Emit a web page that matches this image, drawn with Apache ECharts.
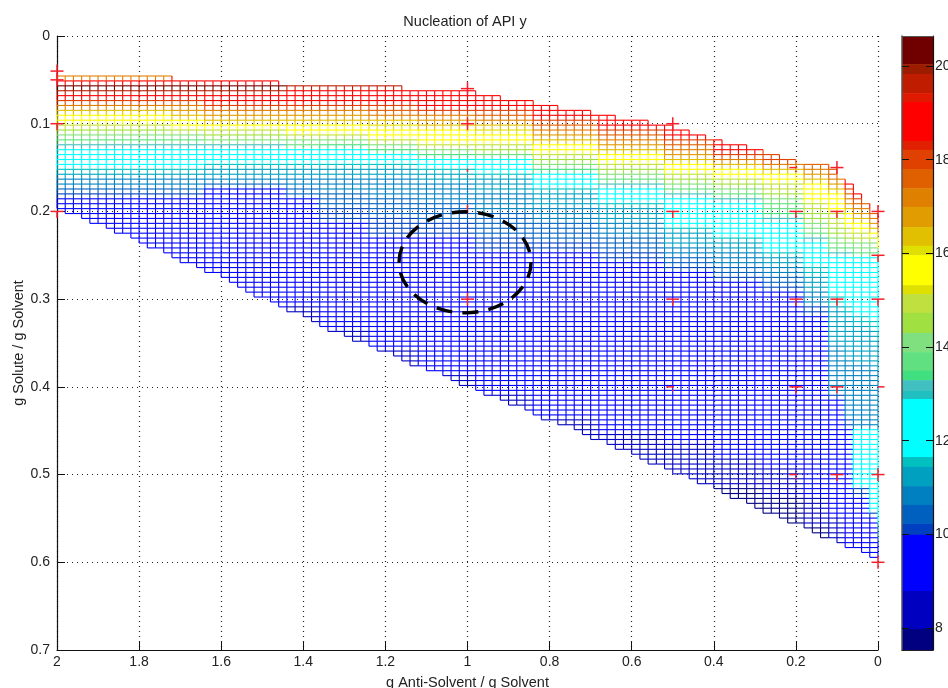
<!DOCTYPE html>
<html>
<head>
<meta charset="utf-8">
<style>html,body{margin:0;padding:0;background:#fff;overflow:hidden}#c{width:948px;height:688px}</style>
<script src="https://cdn.jsdelivr.net/npm/echarts@6/dist/echarts.min.js"></script>
</head>
<body>
<div id="c"></div>
<script>
// Mesh extents, read per column (101 columns, x from 2 down to 0)
const columnStep = 0.02;
const rowOrigin = 0.0456;
const rowStep = 0.0056;
const topRow = [
0,0,0,0,0,0,0,0,0,0,0,0,0,0,0,
1,1,1,1,1,1,1,1,1,1,1,1,1,
2,2,2,2,2,2,2,2,2,2,2,2,2,2,2,
3,3,3,3,3,3,3,3,3,
4,4,4,5,5,5,5,6,6,6,7,7,7,7,8,8,8,9,9,9,9,10,10,10,11,11,12,12,13,13,
14,14,14,15,15,16,16,17,17,18,18,18,18,19,21,22,24,26,28];
const bottomRow = [
27,28,28,29,30,30,31,32,32,33,34,35,35,36,37,38,38,39,40,40,
41,42,43,44,45,45,46,47,48,48,49,50,51,52,52,53,54,54,55,56,
56,57,58,59,59,60,60,61,62,63,63,64,65,65,66,67,67,68,69,70,
70,71,71,72,73,74,74,75,76,76,77,78,79,79,80,81,81,82,83,83,
84,85,86,86,87,88,89,89,90,91,91,92,93,94,94,95,96,96,97,98,98];

// Mesh values: for each block of columns, pairs of (first row, value) going down
const blockStart = [0,14,18,28,32,38,44,51,58,66,74,80,86,91,94,96,97,99,100];
const blockRuns = [
[0,17.0,1,18.8,2,20.3,3,19.6,4,18.8,5,18.0,6,17.2,7,16.4,8,15.6,10,14.9,11,14.5,12,14.1,13,13.7,14,13.15,15,12.3,19,11.55,20,11.2,21,10.8,23,10.4,24,10.1,25,9.4],
[1,18.8,2,20.3,3,19.6,4,18.8,5,18.0,6,17.2,7,16.8,8,16.4,9,15.6,11,14.9,12,14.1,13,13.7,14,13.15,15,12.3,19,11.55,20,11.2,21,10.8,23,10.4,24,10.1,25,9.4],
[1,18.8,2,20.3,3,19.6,4,18.8,6,18.0,7,17.2,8,16.8,9,16.4,10,15.6,11,14.9,12,14.5,13,14.1,14,13.15,15,12.3,18,11.55,19,11.2,21,10.8,22,10.4,23,9.4],
[2,19.6,3,18.8,6,18.0,7,17.2,8,16.8,9,16.4,10,15.6,12,14.9,13,14.1,14,13.7,15,12.3,18,11.55,19,11.2,21,10.8,23,10.4,25,9.4,47,8.4],
[2,19.6,3,18.8,6,18.0,7,17.2,8,16.8,9,16.4,10,15.6,12,14.9,13,14.1,14,13.4,15,12.3,18,11.55,19,11.2,21,10.8,24,10.4,27,10.1,30,9.4,52,8.4],
[2,19.6,3,18.8,6,18.0,7,17.6,8,17.0,9,16.4,10,16.05,11,15.6,13,14.9,14,14.1,15,13.4,16,12.3,18,11.55,19,11.2,21,10.8,25,10.4,29,10.1,33,9.4,56,8.4],
[3,18.8,7,18.0,8,17.2,9,16.8,10,16.4,11,15.6,14,14.9,15,14.1,16,13.4,17,12.3,19,11.55,20,11.2,22,10.8,26,10.4,30,10.1,33,9.4,61,8.4],
[3,19.6,4,18.8,7,18.0,8,17.6,9,17.2,10,16.4,11,16.05,12,15.6,14,14.9,15,14.5,16,13.7,17,12.3,20,11.55,21,11.2,24,10.8,28,10.4,33,10.1,36,9.4,65,8.4],
[5,19.6,6,18.8,9,18.0,10,17.6,11,17.2,12,16.8,13,16.4,14,15.6,16,14.9,17,14.5,18,14.1,19,13.4,20,12.3,23,11.55,24,11.2,27,10.8,30,10.4,34,10.1,36,9.4,70,8.4],
[8,18.8,11,18.0,12,17.6,13,17.2,14,16.8,15,16.4,16,15.6,18,14.9,19,14.5,20,14.1,21,13.7,22,13.15,23,12.3,26,11.55,27,11.2,30,10.8,33,10.4,36,10.1,38,9.4,73,8.4],
[10,18.8,13,18.0,14,17.6,15,17.2,16,16.8,17,16.4,18,15.6,20,14.9,21,14.5,22,14.1,23,13.7,24,13.15,25,12.3,31,11.55,32,11.2,35,10.8,37,10.4,39,10.1,40,9.4,75,8.4],
[13,18.8,16,18.0,17,17.2,18,16.4,19,15.6,21,14.9,22,14.5,23,14.1,24,13.7,25,13.15,26,12.3,33,11.55,34,11.2,36,10.8,39,10.4,41,10.1,42,9.4,78,8.4,84,7.8],
[15,18.0,18,17.2,19,16.4,20,15.6,22,14.9,24,14.5,25,14.1,26,13.7,28,13.4,29,13.15,30,12.3,36,11.55,37,11.2,39,10.8,41,10.4,43,10.1,44,9.4,80,8.4,86,7.8],
[18,17.6,19,17.2,20,16.8,21,16.4,22,15.6,26,14.9,28,14.5,30,14.1,32,13.7,33,13.15,34,12.3,39,11.55,41,11.2,44,10.8,47,10.1,49,9.4,86,8.4,92,7.8],
[18,18.0,19,17.6,21,17.2,22,16.8,23,16.4,24,15.6,28,14.9,31,14.5,33,14.1,35,13.7,36,13.15,37,12.3,45,11.55,47,11.2,55,10.8,65,10.1,66,9.4,90,8.4],
[21,18.8,23,18.0,24,17.6,25,17.2,26,16.8,27,16.4,28,15.6,31,14.9,33,14.5,34,14.1,35,13.7,36,13.15,37,12.3,47,11.55,49,11.2,58,10.8,70,10.1,72,9.4],
[22,18.8,25,18.0,26,17.6,27,17.2,28,16.8,29,16.4,30,15.6,32,14.9,34,14.1,36,13.7,37,12.3,49,11.55,51,11.2,59,10.8,72,12.3,84,10.1,86,9.4],
[26,18.8,27,18.0,28,17.6,29,17.2,30,16.8,31,16.4,32,15.6,33,14.9,34,14.1,36,13.7,37,12.3,50,11.55,52,11.2,60,10.8,72,12.3,89,10.1,90,9.4],
[28,18.8,30,18.0,31,17.2,32,16.4,33,15.6,35,14.1,36,13.7,37,12.3,52,11.55,54,11.2,60,10.8,72,12.3,91,11.2,92,10.8,94,10.1,95,9.4]
];

// Colour bar bands: edges (high to low) and colours
const bandEdges = [20.64,20.04,19.83,19.42,19.23,18.40,18.21,17.80,17.39,16.99,16.56,16.16,15.96,15.32,15.13,14.73,14.30,13.89,13.49,13.29,13.06,12.89,11.65,11.44,11.03,10.63,10.22,9.99,8.79,7.98,7.53];
const bandColors = ['#700000','#9c1c00','#c01c00','#e01a00','#ff0000','#e02000','#e04000','#e06000','#e08000','#e09c00','#e0c000','#e0e000','#ffff00','#e0e000','#c0e040','#a0e040','#80e080','#60e080','#40e080','#40c0c0','#20c0c0','#00ffff','#00c0c0','#00a0c0','#0080c0','#0060c0','#0040c0','#0000ff','#0000c0','#000080'];
const colorbarTicks = [8,10,12,14,16,18,20];

// Red experiment markers
const markerX = [2,2,2,2,1,1,1,1,1,1,0.5,0.5,0.5,0.5,0.2,0.2,0.2,0.2,0.2,0.1,0.1,0.1,0.1,0.1,0,0,0,0,0,0];
const markerY = [0.04,0.05,0.1,0.2,0.06,0.08,0.1,0.153,0.2,0.3,0.1,0.2,0.3,0.4,0.15,0.2,0.3,0.4,0.5,0.15,0.2,0.3,0.4,0.5,0.2,0.25,0.3,0.4,0.5,0.6];
const markerKind = ['+','+','T','T','+','.','+','.','|','+','+','T','T','-','-','T','T','T','-','+','T','T','T','T','+','T','T','r','+','+'];

// Dashed region: centre and radii in data units
const regionCenter = [1.006, 0.258];
const regionRadius = [0.1608, 0.0576];

const xTickStep = 0.2, yTickStep = 0.1;
const titleText = 'Nucleation of API y';
const xName = 'g Anti-Solvent / g Solvent';
const yName = 'g Solute / g Solvent';
const FONT = '"Liberation Sans", Arial, sans-serif';

function valueAt(c, k) {
  let b = 0;
  for (let i = 0; i < blockStart.length; i++) if (blockStart[i] <= c) b = i;
  const r = blockRuns[b];
  let v = r[1];
  for (let i = 0; i < r.length; i += 2) if (r[i] <= k) v = r[i + 1];
  return v;
}
function bandColor(v) {
  for (let i = 0; i < bandColors.length; i++) if (v > bandEdges[i + 1]) return bandColors[i];
  return bandColors[bandColors.length - 1];
}
const px = c => 2 - columnStep * c;
const py = k => rowOrigin + rowStep * k;

const vertices = [];
for (let c = 0; c < topRow.length; c++) {
  for (let k = topRow[c]; k <= bottomRow[c]; k++) {
    const right = c < 100 && k >= topRow[c + 1] && k <= bottomRow[c + 1];
    const down = k < bottomRow[c];
    vertices.push({ value: [px(c), py(k), valueAt(c, k)], c, k, right, down });
  }
}

const bands = bandColors.map((col, i) => [0, 1, bandEdges[i + 1], bandEdges[i], i]);
const markers = markerX.map((x, i) => [x, markerY[i], i]);

const chart = echarts.init(document.getElementById('c'), null, { renderer: 'canvas' });
chart.setOption({
  animation: false,
  backgroundColor: '#fff',
  title: {
    text: titleText, left: 460, top: 9, textAlign: 'center',
    textStyle: { fontFamily: FONT, fontSize: 14.5, fontWeight: 'normal', color: '#222' }
  },
  grid: [
    { left: 57, top: 36, width: 821, height: 614, outerBoundsMode: 'none' },
    { left: 902, top: 36, width: 31, height: 614, outerBoundsMode: 'none' }
  ],
  xAxis: [
    { type: 'value', gridIndex: 0, min: 0, max: 2, interval: xTickStep, inverse: true, position: 'bottom',
      name: xName, nameLocation: 'middle', nameGap: 25,
      nameTextStyle: { fontFamily: FONT, fontSize: 14.5, color: '#222' },
      axisLine: { show: true, onZero: false, lineStyle: { color: '#111', width: 1.2 } },
      axisTick: { show: true, inside: true, length: 8, lineStyle: { color: '#111' } },
      axisLabel: { fontFamily: FONT, fontSize: 14, color: '#222', margin: 5, showMinLabel: true, showMaxLabel: true },
      splitLine: { show: true, lineStyle: { color: '#222', type: [1, 4], width: 1.2 } } },
    { type: 'value', gridIndex: 1, min: 0, max: 1, position: 'bottom',
      axisLine: { show: true, onZero: false, lineStyle: { color: '#222', width: 1.2 } },
      axisTick: { show: false }, axisLabel: { show: false }, splitLine: { show: false }, z: 5 },
    { type: 'value', gridIndex: 1, min: 0, max: 1, position: 'top',
      axisLine: { show: true, onZero: false, lineStyle: { color: '#555', width: 1.2 } },
      axisTick: { show: false }, axisLabel: { show: false }, splitLine: { show: false }, z: 5 }
  ],
  yAxis: [
    { type: 'value', gridIndex: 0, min: 0, max: 0.7, interval: yTickStep, inverse: true, position: 'left',
      name: yName, nameLocation: 'middle', nameGap: 31, nameRotate: 90, nameMoveOverlap: false,
      nameTextStyle: { fontFamily: FONT, fontSize: 14.5, color: '#222' },
      axisLine: { show: true, onZero: false, lineStyle: { color: '#111', width: 1.2 } },
      axisTick: { show: true, inside: true, length: 8, lineStyle: { color: '#111' } },
      axisLabel: { fontFamily: FONT, fontSize: 14, color: '#222', margin: 7, showMinLabel: true, showMaxLabel: true },
      splitLine: { show: true, lineStyle: { color: '#222', type: [1, 4], width: 1.2 } } },
    { type: 'value', gridIndex: 1, min: 7.53, max: 20.64, position: 'right', z: 5,
      axisLine: { show: true, onZero: false, lineStyle: { color: '#111', width: 1.2 } },
      axisTick: { show: true, inside: true, length: 7, customValues: colorbarTicks, lineStyle: { color: '#111' } },
      axisLabel: { fontFamily: FONT, fontSize: 14, color: '#222', margin: 2, customValues: colorbarTicks },
      splitLine: { show: false } },
    { type: 'value', gridIndex: 1, min: 7.53, max: 20.64, position: 'left', z: 5,
      axisLine: { show: true, onZero: false, lineStyle: { color: '#555', width: 1.5 } },
      axisTick: { show: true, inside: true, length: 7, customValues: colorbarTicks, lineStyle: { color: '#111' } },
      axisLabel: { show: false }, splitLine: { show: false } }
  ],
  series: [
    { type: 'custom', name: 'mesh', xAxisIndex: 0, yAxisIndex: 0, z: 2, silent: true, clip: false,
      progressive: 0, animation: false, encode: { x: 0, y: 1 },
      data: vertices,
      renderItem(params, api) {
        const m = vertices[params.dataIndex];
        const here = api.coord([m.value[0], m.value[1]]);
        const style = { stroke: bandColor(m.value[2]), fill: null, lineWidth: 1.1 };
        const kids = [];
        if (m.right) {
          const p = api.coord([px(m.c + 1), m.value[1]]);
          kids.push({ type: 'line', shape: { x1: here[0], y1: here[1], x2: p[0], y2: p[1] }, style });
        }
        if (m.down) {
          const p = api.coord([m.value[0], py(m.k + 1)]);
          kids.push({ type: 'line', shape: { x1: here[0], y1: here[1], x2: p[0], y2: p[1] }, style });
        }
        return { type: 'group', children: kids };
      } },
    { type: 'custom', name: 'experiments', xAxisIndex: 0, yAxisIndex: 0, z: 3, silent: true, clip: false,
      encode: { x: 0, y: 1 }, data: markers,
      renderItem(params, api) {
        const p = api.coord([api.value(0), api.value(1)]);
        const kind = markerKind[params.dataIndex];
        const a = 6.5;
        const segs = {
          '+': [[-a, 0, a, 0], [0, -a, 0, a]],
          'T': [[-a, 0, a, 0], [0, 0, 0, a]],
          '-': [[-a, 0, a * 0.2, 0], [0, 3, 0, 4.5]],
          'r': [[0, 0, a, 0]],
          '|': [[0, -a, 0, a * 0.4]],
          '.': [[0, -1.5, 0, 1.5]]
        }[kind];
        return { type: 'group', children: segs.map(s => ({
          type: 'line', shape: { x1: p[0] + s[0], y1: p[1] + s[1], x2: p[0] + s[2], y2: p[1] + s[3] },
          style: { stroke: '#f5202c', lineWidth: 1.5, fill: null }
        })) };
      } },
    { type: 'custom', name: 'region', xAxisIndex: 0, yAxisIndex: 0, z: 4, silent: true, clip: false,
      encode: { x: 0, y: 1 }, data: [[regionCenter[0], regionCenter[1], regionRadius[0], regionRadius[1]]],
      renderItem(params, api) {
        const c = api.coord([api.value(0), api.value(1)]);
        const e = api.coord([api.value(0) - api.value(2), api.value(1) + api.value(3)]);
        return { type: 'ellipse', shape: { cx: c[0], cy: c[1], rx: Math.abs(e[0] - c[0]), ry: Math.abs(e[1] - c[1]) },
          style: { stroke: '#000', fill: null, lineWidth: 3.4, lineDash: [16, 10.2] } };
      } },
    { type: 'custom', name: 'colorbar', xAxisIndex: 1, yAxisIndex: 1, z: 1, silent: true,
      encode: { y: [2, 3] }, data: bands,
      renderItem(params, api) {
        const a = api.coord([0, api.value(3)]);
        const b = api.coord([1, api.value(2)]);
        return { type: 'rect', shape: { x: a[0], y: a[1], width: b[0] - a[0], height: b[1] - a[1] + 0.5 },
          style: { fill: bandColors[api.value(4)], stroke: null } };
      } }
  ]
});
</script>
</body>
</html>
